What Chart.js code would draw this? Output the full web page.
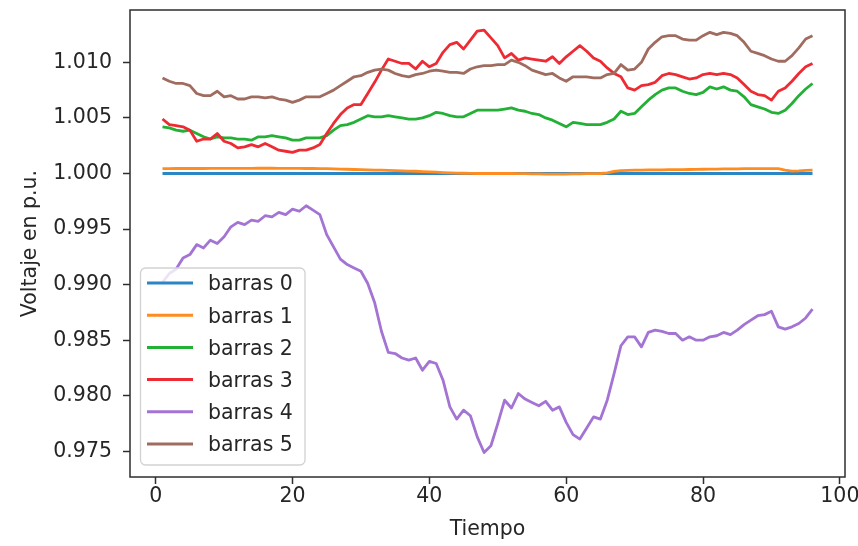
<!DOCTYPE html>
<html>
<head>
<meta charset="utf-8">
<script src="https://cdn.jsdelivr.net/npm/chart.js@4.4.1/dist/chart.umd.min.js"></script>
<style>
  html, body { margin: 0; padding: 0; background: #ffffff; }
  #wrap { width: 858px; height: 546px; }
</style>
</head>
<body>
<div id="wrap"><canvas id="chart" width="858" height="546"></canvas></div>
<script>
// Time steps (x axis)
const tiempo = [
  1,2,3,4,5,6,7,8,9,10,11,12,13,14,15,16,17,18,19,20,
  21,22,23,24,25,26,27,28,29,30,31,32,33,34,35,36,37,38,39,40,
  41,42,43,44,45,46,47,48,49,50,51,52,53,54,55,56,57,58,59,60,
  61,62,63,64,65,66,67,68,69,70,71,72,73,74,75,76,77,78,79,80,
  81,82,83,84,85,86,87,88,89,90,91,92,93,94,95,96
];

// Bus voltages in p.u.
const barras0 = [
  1.0000,1.0000,1.0000,1.0000,1.0000,1.0000,1.0000,1.0000,1.0000,1.0000,
  1.0000,1.0000,1.0000,1.0000,1.0000,1.0000,1.0000,1.0000,1.0000,1.0000,
  1.0000,1.0000,1.0000,1.0000,1.0000,1.0000,1.0000,1.0000,1.0000,1.0000,
  1.0000,1.0000,1.0000,1.0000,1.0000,1.0000,1.0000,1.0000,1.0000,1.0000,
  1.0000,1.0000,1.0000,1.0000,1.0000,1.0000,1.0000,1.0000,1.0000,1.0000,
  1.0000,1.0000,1.0000,1.0000,1.0000,1.0000,1.0000,1.0000,1.0000,1.0000,
  1.0000,1.0000,1.0000,1.0000,1.0000,1.0000,1.0000,1.0000,1.0000,1.0000,
  1.0000,1.0000,1.0000,1.0000,1.0000,1.0000,1.0000,1.0000,1.0000,1.0000,
  1.0000,1.0000,1.0000,1.0000,1.0000,1.0000,1.0000,1.0000,1.0000,1.0000,
  1.0000,1.0000,1.0000,1.0000,1.0000,1.0000
];
const barras1 = [
  1.00043,1.00044,1.00045,1.00045,1.00045,1.00045,1.00045,1.00046,1.00046,1.00046,
  1.00046,1.00046,1.00046,1.00046,1.00047,1.00047,1.00047,1.00046,1.00046,1.00046,
  1.00046,1.00045,1.00045,1.00044,1.00043,1.00041,1.00040,1.00038,1.00036,1.00035,
  1.00033,1.00031,1.00030,1.00028,1.00026,1.00024,1.00022,1.00020,1.00017,1.00015,
  1.00012,1.00008,1.00005,1.00003,1.00002,1.00001,1.00000,1.00000,1.00000,1.00000,
  1.00000,1.00000,0.99999,0.99998,0.99997,0.99996,0.99995,0.99995,0.99995,0.99995,
  0.99996,0.99997,0.99998,0.99999,1.00000,1.00005,1.00018,1.00026,1.00028,1.00030,
  1.00031,1.00032,1.00033,1.00033,1.00034,1.00034,1.00035,1.00036,1.00037,1.00038,
  1.00039,1.00040,1.00041,1.00042,1.00042,1.00043,1.00043,1.00044,1.00044,1.00044,
  1.00043,1.00030,1.00022,1.00024,1.00028,1.00030
];
const barras2 = [
  1.0042,1.0041,1.0039,1.0038,1.0039,1.0036,1.0033,1.0031,1.0033,1.0032,
  1.0032,1.0031,1.0031,1.0030,1.0033,1.0033,1.0034,1.0033,1.0032,1.0030,
  1.0030,1.0032,1.0032,1.0032,1.0034,1.0039,1.0043,1.0044,1.0046,1.0049,
  1.0052,1.0051,1.0051,1.0052,1.0051,1.0050,1.0049,1.0049,1.0050,1.0052,
  1.0055,1.0054,1.0052,1.0051,1.0051,1.0054,1.0057,1.0057,1.0057,1.0057,
  1.0058,1.0059,1.0057,1.0056,1.0054,1.0053,1.0050,1.0048,1.0045,1.0042,
  1.0046,1.0045,1.0044,1.0044,1.0044,1.0046,1.0049,1.0056,1.0053,1.0054,
  1.0060,1.0066,1.0071,1.0075,1.0077,1.0077,1.0074,1.0072,1.0071,1.0073,
  1.0078,1.0076,1.0078,1.0075,1.0074,1.0069,1.0062,1.0060,1.0058,1.0055,
  1.0054,1.0057,1.0063,1.0070,1.0076,1.0081
];
const barras3 = [
  1.0049,1.0044,1.0043,1.0042,1.0039,1.0029,1.0031,1.0031,1.0036,1.0029,
  1.0027,1.0023,1.0024,1.0026,1.0024,1.0027,1.0024,1.0021,1.0020,1.0019,
  1.0021,1.0021,1.0023,1.0026,1.0036,1.0045,1.0053,1.0059,1.0062,1.0062,
  1.0072,1.0082,1.0093,1.0103,1.0101,1.0099,1.0099,1.0094,1.0101,1.0096,
  1.0099,1.0109,1.0116,1.0118,1.0112,1.0120,1.0128,1.0129,1.0122,1.0115,
  1.0104,1.0108,1.0102,1.0104,1.0103,1.0102,1.0101,1.0105,1.0099,1.0105,
  1.0110,1.0115,1.0110,1.0104,1.0101,1.0095,1.0090,1.0087,1.0077,1.0075,
  1.0079,1.0080,1.0082,1.0088,1.0090,1.0089,1.0087,1.0085,1.0086,1.0089,
  1.0090,1.0089,1.0090,1.0089,1.0086,1.0080,1.0074,1.0071,1.0070,1.0066,
  1.0074,1.0077,1.0083,1.0090,1.0096,1.0099
];
const barras4 = [
  0.9902,0.9910,0.9914,0.9924,0.9927,0.9936,0.9933,0.9940,0.9937,0.9943,
  0.9952,0.9956,0.9954,0.9958,0.9957,0.9962,0.9961,0.9965,0.9963,0.9968,
  0.9966,0.9971,0.9967,0.9963,0.9945,0.9934,0.9923,0.9918,0.9915,0.9912,
  0.9901,0.9884,0.9858,0.9839,0.9838,0.9834,0.9832,0.9834,0.9823,0.9831,
  0.9829,0.9814,0.9790,0.9779,0.9787,0.9782,0.9763,0.9749,0.9755,0.9775,
  0.9796,0.9789,0.9802,0.9797,0.9794,0.9791,0.9795,0.9787,0.9790,0.9776,
  0.9765,0.9761,0.9771,0.9781,0.9779,0.9796,0.9820,0.9845,0.9853,0.9853,
  0.9844,0.9857,0.9859,0.9858,0.9856,0.9856,0.9850,0.9853,0.9850,0.9850,
  0.9853,0.9854,0.9857,0.9855,0.9859,0.9864,0.9868,0.9872,0.9873,0.9876,
  0.9862,0.9860,0.9862,0.9865,0.9870,0.9878
];
const barras5 = [
  1.0086,1.0083,1.0081,1.0081,1.0079,1.0072,1.0070,1.0070,1.0074,1.0069,
  1.0070,1.0067,1.0067,1.0069,1.0069,1.0068,1.0069,1.0067,1.0066,1.0064,
  1.0066,1.0069,1.0069,1.0069,1.0072,1.0075,1.0079,1.0083,1.0087,1.0088,
  1.0091,1.0093,1.0094,1.0093,1.0090,1.0088,1.0087,1.0089,1.0090,1.0092,
  1.0093,1.0092,1.0091,1.0091,1.0090,1.0094,1.0096,1.0097,1.0097,1.0098,
  1.0098,1.0102,1.0100,1.0097,1.0093,1.0091,1.0089,1.0090,1.0086,1.0083,
  1.0087,1.0087,1.0087,1.0086,1.0086,1.0089,1.0090,1.0098,1.0093,1.0094,
  1.0100,1.0112,1.0118,1.0123,1.0124,1.0124,1.0121,1.0120,1.0120,1.0124,
  1.0127,1.0125,1.0127,1.0126,1.0124,1.0118,1.0110,1.0108,1.0106,1.0103,
  1.0101,1.0101,1.0106,1.0113,1.0121,1.0124
];

const seriesNames = ['barras 0', 'barras 1', 'barras 2', 'barras 3', 'barras 4', 'barras 5'];
const seriesValues = [barras0, barras1, barras2, barras3, barras4, barras5];
const seriesColors = ['#2b86c5', '#ff8c1f', '#22b035', '#ee2a33', '#a374d4', '#a06c60'];

const xTicks = [0, 20, 40, 60, 80, 100];
const yTicks = [0.975, 0.980, 0.985, 0.990, 0.995, 1.000, 1.005, 1.010];

const FONT = { family: 'DejaVu Sans', size: 20.5 };
const TEXT = '#262626';
const AXIS = '#2e2e2e';

// Frame around the plotting area, drawn over the lines
const framePlugin = {
  id: 'frame',
  afterDatasetsDraw(chart) {
    const a = chart.chartArea, ctx = chart.ctx;
    ctx.save();
    ctx.strokeStyle = AXIS;
    ctx.lineWidth = 1.5;
    ctx.strokeRect(a.left, a.top, a.right - a.left, a.bottom - a.top);
    ctx.restore();
  }
};

// Boxed legend in the lower-left corner
const boxLegendPlugin = {
  id: 'boxLegend',
  afterDraw(chart) {
    const ctx = chart.ctx;
    const x0 = 140.5, y0 = 268, w = 164.5, h = 197, r = 5;
    ctx.save();
    ctx.beginPath();
    ctx.moveTo(x0 + r, y0);
    ctx.arcTo(x0 + w, y0, x0 + w, y0 + h, r);
    ctx.arcTo(x0 + w, y0 + h, x0, y0 + h, r);
    ctx.arcTo(x0, y0 + h, x0, y0, r);
    ctx.arcTo(x0, y0, x0 + w, y0, r);
    ctx.closePath();
    ctx.fillStyle = 'rgba(255,255,255,0.8)';
    ctx.fill();
    ctx.strokeStyle = '#d2d2d2';
    ctx.lineWidth = 1.3;
    ctx.stroke();

    ctx.font = FONT.size + 'px "' + FONT.family + '"';
    ctx.textBaseline = 'middle';
    ctx.textAlign = 'left';
    chart.data.datasets.forEach((ds, k) => {
      const yy = 283 + k * 32.2;
      ctx.strokeStyle = ds.borderColor;
      ctx.lineWidth = 3;
      ctx.beginPath();
      ctx.moveTo(147, yy);
      ctx.lineTo(193, yy);
      ctx.stroke();
      ctx.fillStyle = TEXT;
      ctx.fillText(ds.label, 208, yy + 2);
    });
    ctx.restore();
  }
};

const datasets = seriesNames.map((name, k) => ({
  label: name,
  data: tiempo.map((t, j) => ({ x: t, y: seriesValues[k][j] })),
  borderColor: seriesColors[k],
  backgroundColor: seriesColors[k],
  borderWidth: 2.8,
  pointRadius: 0,
  tension: 0,
  fill: false,
  borderJoinStyle: 'round',
  order: seriesNames.length - k
}));

new Chart(document.getElementById('chart'), {
  type: 'line',
  data: { datasets },
  options: {
    responsive: false,
    animation: false,
    devicePixelRatio: 1,
    layout: { padding: { left: 0, right: 13, top: 10, bottom: 0 } },
    plugins: {
      legend: { display: false },
      tooltip: { enabled: false },
      title: { display: false }
    },
    scales: {
      x: {
        type: 'linear',
        min: -3.75,
        max: 100.75,
        afterBuildTicks: s => { s.ticks = xTicks.map(v => ({ value: v })); },
        afterFit: s => { s.height = 69; s.paddingLeft = 0; s.paddingRight = 0; },
        ticks: {
          font: FONT, color: TEXT, padding: 0, maxRotation: 0,
          callback: v => String(v)
        },
        grid: {
          display: true, drawOnChartArea: false, drawTicks: true,
          tickLength: 7, tickWidth: 1.5, tickColor: AXIS
        },
        border: { display: false },
        title: {
          display: true, text: 'Tiempo', font: FONT, color: TEXT,
          padding: { top: 0, bottom: 4 }
        }
      },
      y: {
        type: 'linear',
        min: 0.97269,
        max: 1.01471,
        afterBuildTicks: s => { s.ticks = yTicks.map(v => ({ value: v })); },
        afterFit: s => { s.width = 130; s.paddingTop = 0; s.paddingBottom = 0; },
        ticks: {
          font: FONT, color: TEXT, padding: 11,
          callback: v => Number(v).toFixed(3)
        },
        grid: {
          display: true, drawOnChartArea: false, drawTicks: true,
          tickLength: 7, tickWidth: 1.5, tickColor: AXIS
        },
        border: { display: false },
        title: {
          display: true, text: 'Voltaje en p.u.', font: FONT, color: TEXT,
          padding: { top: 18, bottom: 0 }
        }
      }
    }
  },
  plugins: [framePlugin, boxLegendPlugin]
});
</script>
</body>
</html>
